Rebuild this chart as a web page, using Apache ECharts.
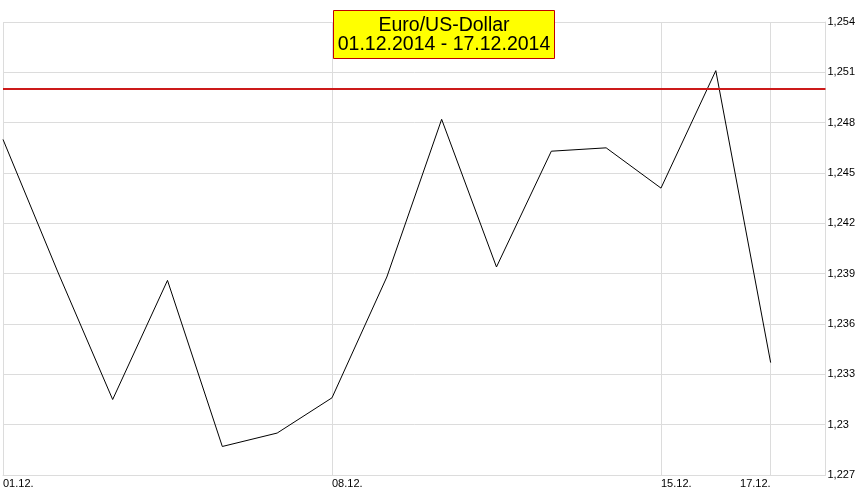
<!DOCTYPE html>
<html><head><meta charset="utf-8">
<script src="https://cdn.jsdelivr.net/npm/echarts@6/dist/echarts.min.js"></script>
<style>html,body{margin:0;padding:0;background:#fff}#c{width:858px;height:492px}</style>
</head><body><div id="c"></div>
<script>
const categories = ['01.12.','02.12.','03.12.','04.12.','05.12.','07.12.','08.12.','09.12.','10.12.','11.12.','12.12.','14.12.','15.12.','16.12.','17.12.',''];
const rates = [1.2470,1.2391,1.2315,1.2386,1.2287,1.2295,1.2316,1.2388,1.2482,1.2394,1.2463,1.2465,1.2441,1.2511,1.2337];
const leftTickLabels = ['01.12.','08.12.','15.12.'];
const rightTickLabels = ['17.12.'];
const gridDates = ['01.12.','08.12.','15.12.','17.12.'];
const referenceLevel = 1.25;
const yMin = 1.227, yMax = 1.254, yStep = 0.003;
const titleLines = ['Euro/US-Dollar','01.12.2014 - 17.12.2014'];

const FONT = "'Liberation Sans', Arial, sans-serif";
const GRID = '#dcdcdc';
const fmt = v => v.toFixed(3).replace(/0+$/,'').replace(/\.$/,'').replace('.',',');

const chart = echarts.init(document.getElementById('c'), null, {renderer:'canvas'});
chart.setOption({
  animation: false,
  backgroundColor: '#fff',
  title: {
    text: titleLines.join('\n'),
    left: 444 - 4,
    top: 11,
    textAlign: 'center',
    padding: [5, 4, 4, 4],
    backgroundColor: '#ffff00',
    borderColor: '#c00000',
    borderWidth: 1,
    textStyle: {fontFamily: FONT, fontSize: 19.5, fontWeight: 'normal', color: '#000', lineHeight: 19}
  },
  grid: {left: 2, right: 31, top: 22, bottom: 17, containLabel: false},
  xAxis: [{
    type: 'category', data: categories, boundaryGap: false,
    axisLine: {show: true, lineStyle: {color: GRID, width: 1}},
    axisTick: {show: false},
    splitLine: {show: true, interval: (i, v) => gridDates.includes(v), lineStyle: {color: GRID, width: 1}},
    axisLabel: {interval: (i, v) => leftTickLabels.includes(v), align: 'left', margin: 3,
      fontFamily: FONT, fontSize: 11, color: '#000'}
  }, {
    type: 'category', data: categories, boundaryGap: false, position: 'bottom',
    axisLine: {show: false}, axisTick: {show: false}, splitLine: {show: false},
    axisLabel: {interval: (i, v) => rightTickLabels.includes(v), align: 'right', margin: 3,
      fontFamily: FONT, fontSize: 11, color: '#000'}
  }],
  yAxis: {
    type: 'value', position: 'right', min: yMin, max: yMax, interval: yStep,
    axisLine: {show: true, lineStyle: {color: GRID, width: 1}},
    axisTick: {show: false},
    splitLine: {show: true, lineStyle: {color: GRID, width: 1}},
    axisLabel: {formatter: fmt, margin: 2, fontFamily: FONT, fontSize: 11, color: '#000'}
  },
  series: [{
    type: 'line', data: rates, xAxisIndex: 0, symbol: 'none',
    lineStyle: {color: '#000', width: 1},
    markLine: {
      silent: true, symbol: 'none', label: {show: false},
      lineStyle: {color: '#cc1a1a', width: 2, type: 'solid'},
      data: [{yAxis: referenceLevel}]
    }
  }]
});
</script></body></html>
